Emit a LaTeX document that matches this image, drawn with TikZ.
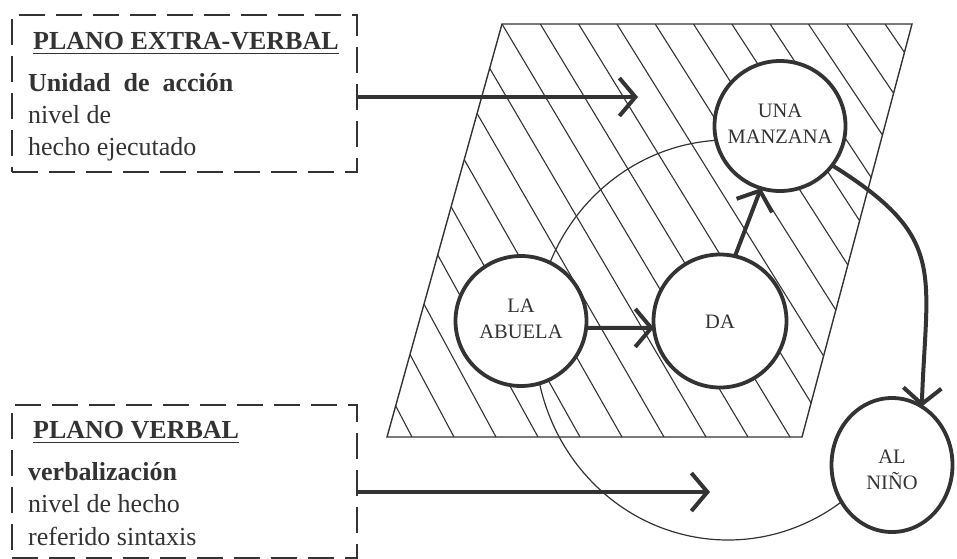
\documentclass[tikz,border=0pt]{standalone}
\usepackage{fontspec}
\setmainfont{Liberation Serif}
\usetikzlibrary{arrows.meta,shapes.geometric,calc}
\definecolor{ink}{gray}{0.2}
\begin{document}
\begin{tikzpicture}[x=1pt,y=1pt,
  bubble/.style={ellipse, draw=ink, line width=3.8pt, fill=white, inner sep=0pt, outer sep=0pt},
  bubbletext/.style={align=center, inner sep=0pt, text=ink, font=\fontsize{20.5}{26}\selectfont},
  dashbox/.style={draw=ink, line width=2.6pt, dash pattern=on 26pt off 11pt, minimum width=345pt, anchor=north west, inner sep=0pt, outer sep=0pt},
  lbl/.style={anchor=base west, inner sep=0pt, text=ink, font=\fontsize{26}{30}\selectfont},
  ttl/.style={lbl, font=\fontsize{26}{30}\selectfont\bfseries},
  conn/.style={draw=ink, line width=4pt, -{Straight Barb[length=16pt,width=38pt]}},
  hatchline/.style={draw=ink, line width=1.1pt},
  thinarc/.style={draw=ink, line width=1.2pt}
  ]
\useasboundingbox[fill=white] (0,0) rectangle (957,-558);

% parallelogram with hatching
\coordinate (p1) at (502,-24);
\coordinate (p2) at (912,-24);
\coordinate (p3) at (802,-437);
\coordinate (p4) at (387,-437);
\begin{scope}
  \clip (p1)--(p2)--(p3)--(p4)--cycle;
  \foreach \k in {-8,...,10}
    \draw[hatchline] ({502+38.3*\k},-24) -- ({748+42*\k},-437);
\end{scope}
\draw[ink, line width=1.4pt] (p1)--(p2)--(p3)--(p4)--cycle;

% thin elliptical arc
\coordinate (oc) at (728,-340);
\draw[thinarc] ([shift={(80:193pt and 200pt)}]oc) arc[start angle=80, end angle=310, x radius=193pt, y radius=200pt];

% boxes
\node[dashbox, minimum height=157pt] (box1) at (12,-15) {};
\node[dashbox, minimum height=153pt] (box2) at (12,-405) {};

\node[ttl] (t1) at (33,-49) {PLANO EXTRA-VERBAL};
\draw[ink, line width=1.8pt] ([yshift=-4.5pt]t1.base west) -- ([yshift=-4.5pt]t1.base east);
\node[lbl, font=\fontsize{26}{30}\selectfont\bfseries] (t2) at (28,-91) {Unidad\hspace{13pt}de\hspace{13pt}acción};
\node[lbl] (t3) at (28,-123) {nivel de};
\node[lbl] (t4) at (28,-155) {hecho ejecutado};

\node[ttl] (s1) at (33,-438) {PLANO VERBAL};
\draw[ink, line width=1.8pt] ([yshift=-4.5pt]s1.base west) -- ([yshift=-4.5pt]s1.base east);
\node[lbl, font=\fontsize{26}{30}\selectfont\bfseries] (s2) at (28,-480) {verbalización};
\node[lbl] (s3) at (28,-512) {nivel de hecho};
\node[lbl] (s4) at (28,-545) {referido sintaxis};

% circles
\node[bubble, minimum width=131pt, minimum height=130pt] (mz) at (780,-126) {};
\node[bubble, minimum width=131pt, minimum height=130pt] (ab) at (521,-321) {};
\node[bubble, minimum width=133pt, minimum height=133pt] (da) at (720,-321) {};
\node[bubble, minimum width=121pt, minimum height=134pt] (nn) at (892,-465) {};
\node[bubbletext] (mzt) at ([yshift=2pt]mz.center) {UNA\\MANZANA};
\node[bubbletext] (abt) at ([yshift=2pt]ab.center) {LA\\ABUELA};
\node[bubbletext] (dat) at ([yshift=-1pt]da.center) {DA};
\node[bubbletext] (nnt) at ([yshift=-5pt]nn.center) {AL\\NIÑO};

% connectors
\coordinate (tip1) at (638,-97);
\coordinate (tip2) at (710,-492);
\draw[conn] (box1.east |- tip1) -- (tip1);
\draw[conn] (box2.east |- tip2) -- (tip2);
\draw[conn] (ab.354) -- (da.186);
\draw[conn] (da.77) -- (mz.253);
\draw[conn] (mz.-37) to[out=-32, in=88, looseness=1.35] (nn.63);
\end{tikzpicture}
\end{document}
